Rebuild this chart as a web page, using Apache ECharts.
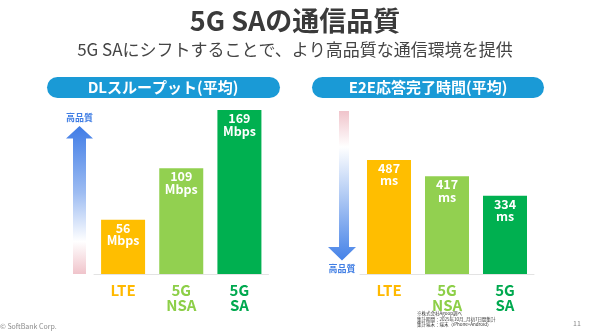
<!DOCTYPE html>
<html>
<head>
<meta charset="utf-8">
<script src="https://cdn.jsdelivr.net/npm/echarts@6/dist/echarts.min.js"></script>
<style>
  html, body { margin: 0; padding: 0; background: #ffffff; }
  #chart { width: 590px; height: 331px; }
</style>
</head>
<body>
<div id="chart"></div>
<script>
// Categories and values
var categories = ['LTE', '5G\nNSA', '5G\nSA'];
var categoryColors = ['#ffb900', '#8dcf48', '#00a94f'];
var barColors = ['#ffbe00', '#92d050', '#00b050'];
var throughputMbps = [56, 109, 169];
var latencyMs = [487, 417, 334];

var FONT = '"Noto Sans CJK JP", "Noto Sans", sans-serif';

function axisData() {
  return categories.map(function (c, i) {
    return { value: c, textStyle: { color: categoryColors[i] } };
  });
}
function barData(values) {
  return values.map(function (v, i) {
    return { value: v, itemStyle: { color: barColors[i] } };
  });
}
function barLabel(unit) {
  return {
    show: true,
    position: 'insideTop',
    distance: 2,
    color: '#ffffff',
    fontFamily: FONT,
    fontWeight: 'bold',
    fontSize: 12.5,
    lineHeight: 12.5,
    formatter: function (p) { return p.value + '\n' + unit; }
  };
}
function categoryAxis(gridIndex) {
  return {
    type: 'category',
    gridIndex: gridIndex,
    data: axisData(),
    axisLine: { show: true, lineStyle: { color: '#e3e3e3', width: 1 } },
    axisTick: { show: false },
    axisLabel: {
      margin: 9,
      verticalAlign: 'middle',
      fontFamily: FONT,
      fontWeight: 'bold',
      fontSize: 15,
      lineHeight: 15,
      interval: 0
    }
  };
}
function valueAxis(gridIndex, max) {
  return {
    type: 'value', gridIndex: gridIndex, min: 0, max: max,
    axisLine: { show: false }, axisTick: { show: false },
    axisLabel: { show: false }, splitLine: { show: false }
  };
}

var option = {
  backgroundColor: '#ffffff',
  animation: false,
  grid: [
    { left: 94, right: 321.5, top: 110, bottom: 57 },
    { left: 360, right: 56, top: 110, bottom: 57 }
  ],
  xAxis: [categoryAxis(0), categoryAxis(1)],
  yAxis: [valueAxis(0, 169), valueAxis(1, 700)],
  series: [
    { type: 'bar', xAxisIndex: 0, yAxisIndex: 0, barWidth: 44,
      data: barData(throughputMbps), label: barLabel('Mbps') },
    { type: 'bar', xAxisIndex: 1, yAxisIndex: 1, barWidth: 44,
      data: barData(latencyMs), label: barLabel('ms') }
  ],
  graphic: [
    // headline and sub-headline
    { type: 'text', left: 'center', top: 7,
      style: { text: '5G SAの通信品質', fill: '#3a3a3a', font: 'bold 27px ' + FONT } },
    { type: 'text', x: 295, y: 50,
      style: { text: '5G SAにシフトすることで、より高品質な通信環境を提供', fill: '#444444', font: '17px ' + FONT,
        align: 'center', verticalAlign: 'middle' } },

    // section header pills
    { type: 'rect', shape: { x: 47, y: 77, width: 233, height: 21, r: 10.5 }, style: { fill: '#1a9ad6' } },
    { type: 'text', x: 163, y: 87.5,
      style: { text: 'DLスループット(平均)', fill: '#ffffff', font: 'bold 15px ' + FONT, align: 'center', verticalAlign: 'middle' } },
    { type: 'rect', shape: { x: 312, y: 77, width: 232, height: 21, r: 10.5 }, style: { fill: '#1a9ad6' } },
    { type: 'text', x: 428, y: 87.5,
      style: { text: 'E2E応答完了時間(平均)', fill: '#ffffff', font: 'bold 15px ' + FONT, align: 'center', verticalAlign: 'middle' } },

    // upward quality arrow (throughput)
    { type: 'polygon',
      shape: { points: [[79.5, 126], [93, 138.5], [86, 138.5], [86, 274], [73, 274], [73, 138.5], [66, 138.5]] },
      style: { fill: { type: 'linear', x: 0, y: 0, x2: 0, y2: 1, colorStops: [
        { offset: 0, color: '#3f7ce6' },
        { offset: 0.45, color: '#9dbcf2' },
        { offset: 0.78, color: '#ffffff' },
        { offset: 1, color: '#f0c4cb' }
      ] } } },
    { type: 'text', x: 79.5, y: 118,
      style: { text: '高品質', fill: '#3f7de4', font: 'bold 9px ' + FONT, align: 'center', verticalAlign: 'middle' } },

    // downward quality arrow (latency)
    { type: 'polygon',
      shape: { points: [[339, 111], [349, 111], [349, 247], [356, 247], [342, 260.5], [328, 247], [339, 247]] },
      style: { fill: { type: 'linear', x: 0, y: 0, x2: 0, y2: 1, colorStops: [
        { offset: 0, color: '#f0c4cb' },
        { offset: 0.24, color: '#ffffff' },
        { offset: 0.6, color: '#a9c5f3' },
        { offset: 1, color: '#4582e8' }
      ] } } },
    { type: 'text', x: 342, y: 269,
      style: { text: '高品質', fill: '#3f7de4', font: 'bold 9px ' + FONT, align: 'center', verticalAlign: 'middle' } },

    // source notes
    { type: 'text', x: 417, y: 311,
      style: { text: '※株式会社Agoop調べ\n集計期間：2025年10月_月初7日間集計\n集計端末：端末（iPhone+Android）',
        fill: '#333333', font: '4.5px ' + FONT, lineHeight: 5.5 } },
    { type: 'text', x: 577, y: 323,
      style: { text: '11', fill: '#888888', font: '7px ' + FONT, align: 'center', verticalAlign: 'middle' } },
    { type: 'text', x: 0, y: 326,
      style: { text: '© SoftBank Corp.', fill: '#8a8a8a', font: '7px ' + FONT, verticalAlign: 'middle' } }
  ]
};

var chart = echarts.init(document.getElementById('chart'), null, { renderer: 'canvas' });
chart.setOption(option);
</script>
</body>
</html>
